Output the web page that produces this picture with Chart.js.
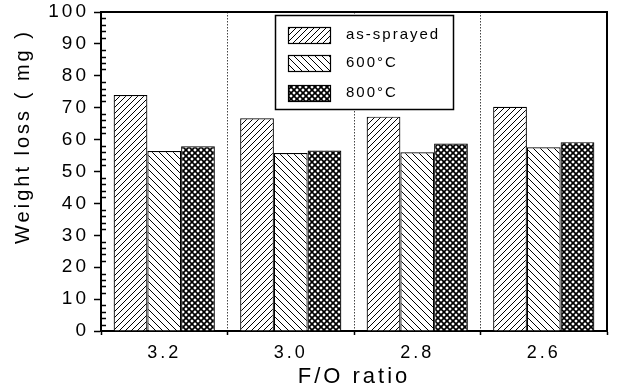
<!DOCTYPE html>
<html lang="en">
<head>
  <meta charset="UTF-8">
  <title>Weight loss vs F/O ratio</title>
  <style>
    body {
      margin: 0;
      background-color: #ffffff;
    }
    #wrap {
      width: 622px;
      height: 390px;
    }
  </style>
  <script src="https://cdn.jsdelivr.net/npm/chart.js"></script>
</head>
<body>

<div id="wrap"><canvas id="myChart" width="622" height="390"></canvas></div>

<script>
  // categories and series
  const categories = ['3.2', '3.0', '2.8', '2.6'];
  const asSprayed = [74.0, 66.7, 67.2, 70.3];
  const heat600 = [56.4, 55.8, 56.0, 57.6];
  const heat800 = [57.9, 56.6, 58.8, 59.2];
  const seriesNames = ['as-sprayed', '600°C', '800°C'];

  const FONT = '"Liberation Sans", Arial, sans-serif';

  // small tiles for the hatch fills
  function hatch(kind, size, width) {
    const c = document.createElement('canvas');
    c.width = c.height = size;
    const g = c.getContext('2d');
    g.fillStyle = '#fff';
    g.fillRect(0, 0, size, size);
    g.strokeStyle = '#000';
    g.lineWidth = width;
    g.beginPath();
    for (let k = -size; k <= size; k += size) {
      if (kind === 'fwd' || kind === 'cross') {
        g.moveTo(k, size);
        g.lineTo(k + size, 0);
      }
      if (kind === 'back' || kind === 'cross') {
        g.moveTo(k, 0);
        g.lineTo(k + size, size);
      }
    }
    g.stroke();
    return g.createPattern(c, 'repeat');
  }

  const fills = [hatch('fwd', 6, 1), hatch('back', 7, 1), hatch('cross', 6, 1.7)];

  // minor ticks, frame and boxed legend
  const extras = {
    id: 'extras',
    beforeDraw(chart) {
      chart.ctx.letterSpacing = '3px';
    },
    afterDraw(chart) {
      const ctx = chart.ctx;
      const area = chart.chartArea;
      const y = chart.scales.y;
      ctx.save();
      ctx.strokeStyle = '#000';

      // inward minor ticks every 2 units
      ctx.lineWidth = 1.3;
      ctx.beginPath();
      for (let v = 2; v < 100; v += 2) {
        if (v % 10 === 0) continue;
        const py = Math.round(y.getPixelForValue(v)) + 0.5;
        ctx.moveTo(area.left, py);
        ctx.lineTo(area.left + 5, py);
      }
      ctx.stroke();

      // top and right edges of the frame
      ctx.lineWidth = 2;
      ctx.beginPath();
      ctx.moveTo(area.left, area.top);
      ctx.lineTo(area.right, area.top);
      ctx.lineTo(area.right, area.bottom);
      ctx.stroke();

      // legend box
      const bx = 275.5, by = 15.5, bw = 178, bh = 94;
      ctx.fillStyle = '#fff';
      ctx.fillRect(bx, by, bw, bh);
      ctx.lineWidth = 1.5;
      ctx.strokeRect(bx, by, bw, bh);

      const rows = [27, 55, 85];
      ctx.font = '15px ' + FONT;
      ctx.letterSpacing = '2px';
      ctx.textBaseline = 'middle';
      chart.data.datasets.forEach((ds, i) => {
        ctx.fillStyle = ds.backgroundColor;
        ctx.fillRect(288, rows[i], 42, 16);
        ctx.lineWidth = 1.2;
        ctx.strokeRect(288.5, rows[i] + 0.5, 42, 16);
        ctx.fillStyle = '#000';
        ctx.fillText(ds.label, 346, rows[i] + 8);
      });
      ctx.restore();
    }
  };

  const ctx = document.getElementById('myChart').getContext('2d');

  const chart = new Chart(ctx, {
    type: 'bar',
    data: {
      labels: categories,
      datasets: [asSprayed, heat600, heat800].map((values, i) => ({
        label: seriesNames[i],
        data: values,
        backgroundColor: fills[i],
        borderColor: '#000',
        borderWidth: 1.2,
        categoryPercentage: 0.8,
        barPercentage: 1.0
      }))
    },
    options: {
      responsive: false,
      animation: false,
      layout: {
        padding: { top: 12, right: 15, left: 0, bottom: 0 }
      },
      scales: {
        x: {
          grid: {
            offset: true,
            color: '#444',
            lineWidth: 1,
            drawTicks: true,
            tickLength: 4,
            tickColor: '#000',
            tickWidth: 1.5
          },
          border: { color: '#000', width: 2, dash: [1.5, 1.5] },
          ticks: {
            color: '#000',
            padding: 7,
            font: { family: FONT, size: 18 }
          },
          title: {
            display: true,
            text: 'F/O ratio',
            color: '#000',
            padding: 0,
            font: { family: FONT, size: 22 }
          },
          afterFit(scale) {
            scale.height = 59;
            scale.paddingLeft = 0;
            scale.paddingRight = 0;
          }
        },
        y: {
          min: 0,
          max: 100,
          grid: {
            drawOnChartArea: false,
            tickLength: 7,
            tickColor: '#000',
            tickWidth: 1.5
          },
          border: { color: '#000', width: 2 },
          ticks: {
            stepSize: 10,
            color: '#000',
            padding: 5,
            font: { family: FONT, size: 19 }
          },
          title: {
            display: true,
            text: 'Weight loss ( mg )  ',
            align: 'end',
            color: '#000',
            padding: 11,
            font: { family: FONT, size: 20 }
          },
          afterFit(scale) {
            scale.width = 101;
            scale.paddingTop = 0;
            scale.paddingBottom = 0;
          }
        }
      },
      plugins: {
        legend: { display: false },
        tooltip: { enabled: false }
      }
    },
    plugins: [extras]
  });
</script>

</body>
</html>
